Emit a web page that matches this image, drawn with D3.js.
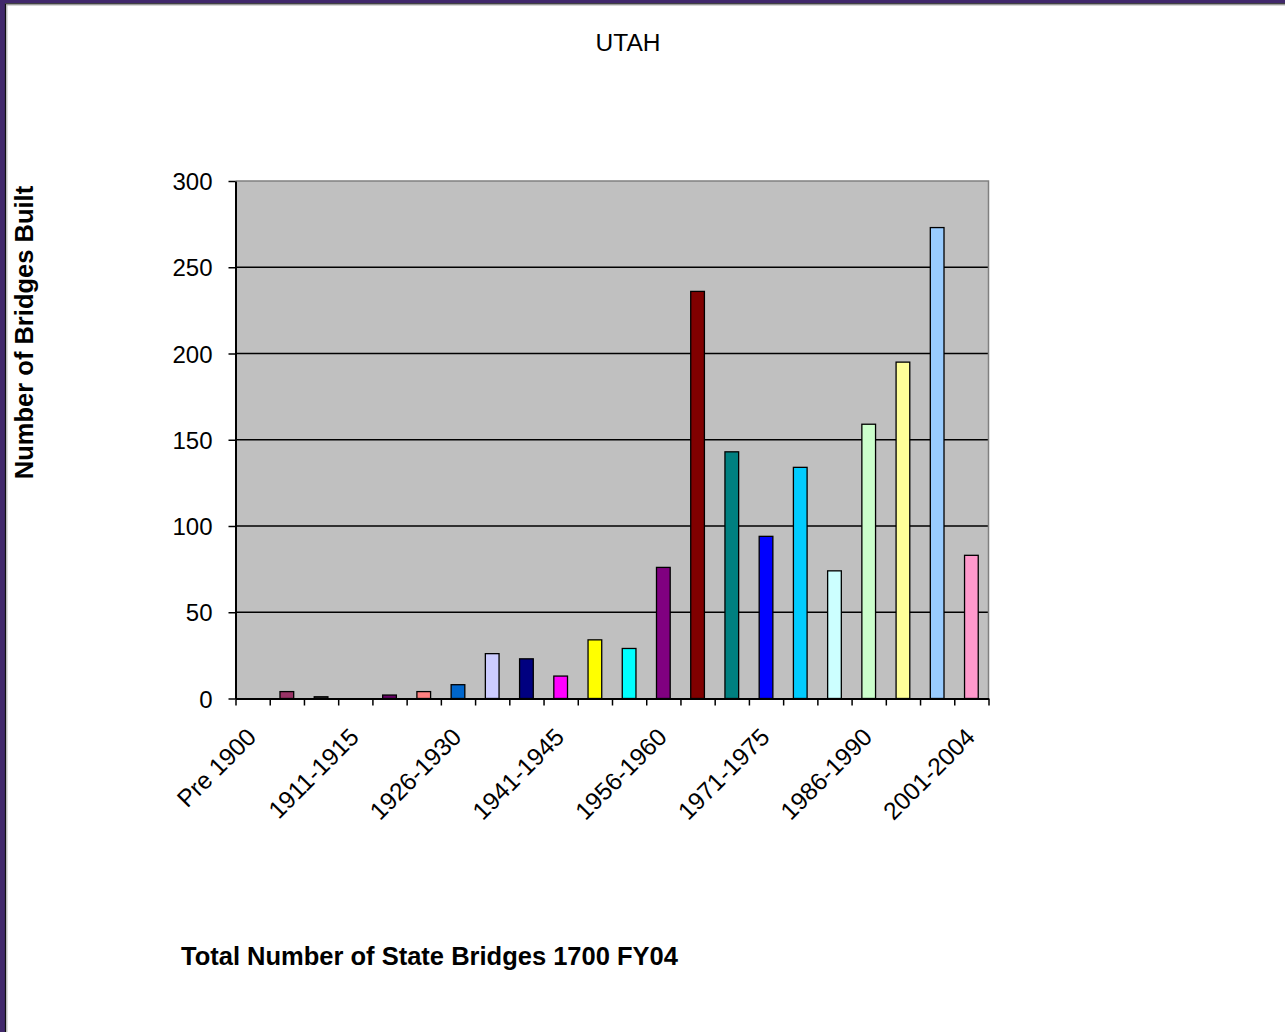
<!DOCTYPE html>
<html>
<head>
<meta charset="utf-8">
<script src="https://cdn.jsdelivr.net/npm/d3@7/dist/d3.min.js"></script>
<style>
  html, body { margin: 0; padding: 0; background: #fff; }
  svg { display: block; font-family: Arial, "Liberation Sans", sans-serif; }
</style>
</head>
<body>
<svg id="chart" width="1285" height="1032"></svg>
<script>
// Bridges built in Utah, by construction period
const categories = [
  "Pre 1900", "1900-1905", "1906-1910", "1911-1915", "1916-1920", "1921-1925",
  "1926-1930", "1931-1935", "1936-1940", "1941-1945", "1946-1950", "1951-1955",
  "1956-1960", "1961-1965", "1966-1970", "1971-1975", "1976-1980", "1981-1985",
  "1986-1990", "1991-1995", "1996-2000", "2001-2004"
];
const bridgesBuilt = [
  0, 4, 1, 0, 2, 4,
  8, 26, 23, 13, 34, 29,
  76, 236, 143, 94, 134, 74,
  159, 195, 273, 83
];
const barColors = [
  "#9999FF", "#993366", "#333333", "#CCFFFF", "#660066", "#FF8080",
  "#0066CC", "#CCCCFF", "#000080", "#FF00FF", "#FFFF00", "#00FFFF",
  "#800080", "#800000", "#008080", "#0000FF", "#00CCFF", "#CCFFFF",
  "#CCFFCC", "#FFFF99", "#99CCFF", "#FF99CC"
];
const yTicks = [0, 50, 100, 150, 200, 250, 300];
const labelledCategories = ["Pre 1900", "1911-1915", "1926-1930", "1941-1945",
  "1956-1960", "1971-1975", "1986-1990", "2001-2004"];

const titleText = "UTAH";
const yTitle = "Number of Bridges Built";
const footText = "Total Number of State Bridges 1700 FY04";

const svg = d3.select("#chart");
const W = 1285, H = 1032;

// slide frame: purple band with thin black and grey rules
svg.append("rect").attr("x", 0).attr("y", 0).attr("width", W).attr("height", H).attr("fill", "#fff");
svg.append("rect").attr("x", 0).attr("y", 0).attr("width", W).attr("height", 3.2).attr("fill", "#41286B");
svg.append("rect").attr("x", 0).attr("y", 0).attr("width", 5).attr("height", H).attr("fill", "#41286B");
svg.append("path").attr("d", `M5.5,${H} V3.8 H${W}`).attr("fill", "none").attr("stroke", "#111").attr("stroke-width", 1.2);
svg.append("path").attr("d", `M6.8,${H} V5 H${W}`).attr("fill", "none").attr("stroke", "#b0b0b0").attr("stroke-width", 1.2);

// plot area
const plot = { left: 235.5, right: 988.5, top: 181, bottom: 698.5 };

const x = d3.scaleBand()
  .domain(categories)
  .range([plot.left, plot.right])
  .paddingInner(0.6)
  .paddingOuter(0.3);

const xEdge = d3.scaleLinear()
  .domain([0, categories.length])
  .range([plot.left, plot.right]);

const y = d3.scaleLinear()
  .domain([0, 300])
  .range([plot.bottom, plot.top]);

svg.append("rect")
  .attr("x", plot.left).attr("y", plot.top)
  .attr("width", plot.right - plot.left).attr("height", plot.bottom - plot.top)
  .attr("fill", "#C0C0C0");

// gridlines
svg.append("g")
  .selectAll("line")
  .data(yTicks.filter(t => t > 0 && t < 300))
  .join("line")
  .attr("x1", plot.left).attr("x2", plot.right)
  .attr("y1", d => y(d)).attr("y2", d => y(d))
  .attr("stroke", "#000").attr("stroke-width", 1.4);

// top and right plot border
svg.append("path")
  .attr("d", `M${plot.left},${plot.top} H${plot.right} V${plot.bottom}`)
  .attr("fill", "none").attr("stroke", "#808080").attr("stroke-width", 1.5);

// bars
svg.append("g")
  .selectAll("rect")
  .data(categories.map((c, i) => ({ c, v: bridgesBuilt[i], col: barColors[i] })))
  .join("rect")
  .filter(d => d.v > 0)
  .attr("x", d => x(d.c))
  .attr("y", d => y(d.v))
  .attr("width", x.bandwidth())
  .attr("height", d => y(0) - y(d.v))
  .attr("fill", d => d.col)
  .attr("stroke", "#000")
  .attr("stroke-width", 1.3);

// y axis
const yAxis = svg.append("g")
  .attr("transform", `translate(${plot.left},0)`)
  .call(d3.axisLeft(y).tickValues(yTicks).tickSize(7).tickPadding(16).tickSizeOuter(0));
yAxis.select(".domain").attr("stroke", "#000").attr("stroke-width", 2);
yAxis.selectAll(".tick line").attr("stroke", "#000").attr("stroke-width", 1.5);
yAxis.selectAll(".tick text")
  .attr("font-size", 24).attr("fill", "#000")
  .attr("font-family", "Arial, 'Liberation Sans', sans-serif")
  .attr("dy", "0.36em");

// x axis: ticks on category boundaries
const xAxis = svg.append("g")
  .attr("transform", `translate(0,${plot.bottom})`)
  .call(d3.axisBottom(xEdge).tickValues(d3.range(categories.length + 1)).tickFormat("").tickSize(7).tickSizeOuter(0));
xAxis.select(".domain").attr("stroke", "#000").attr("stroke-width", 2);
xAxis.selectAll(".tick line").attr("stroke", "#000").attr("stroke-width", 1.5);

// category labels, every third period
svg.append("g")
  .selectAll("text")
  .data(labelledCategories)
  .join("text")
  .attr("transform", d => `translate(${x(d) + x.bandwidth() / 2 + 5},${plot.bottom + 40}) rotate(-45)`)
  .attr("text-anchor", "end")
  .attr("font-size", 24.5)
  .attr("fill", "#000")
  .text(d => d);

// titles
svg.append("text")
  .attr("x", 628).attr("y", 50.5)
  .attr("text-anchor", "middle")
  .attr("font-size", 24.5).attr("fill", "#000")
  .text(titleText);

svg.append("text")
  .attr("transform", "translate(33,332.5) rotate(-90)")
  .attr("text-anchor", "middle")
  .attr("font-size", 25.5).attr("font-weight", "bold").attr("fill", "#000")
  .text(yTitle);

svg.append("text")
  .attr("x", 181).attr("y", 964.5)
  .attr("font-size", 25.5).attr("font-weight", "bold").attr("fill", "#000")
  .text(footText);
</script>
</body>
</html>
